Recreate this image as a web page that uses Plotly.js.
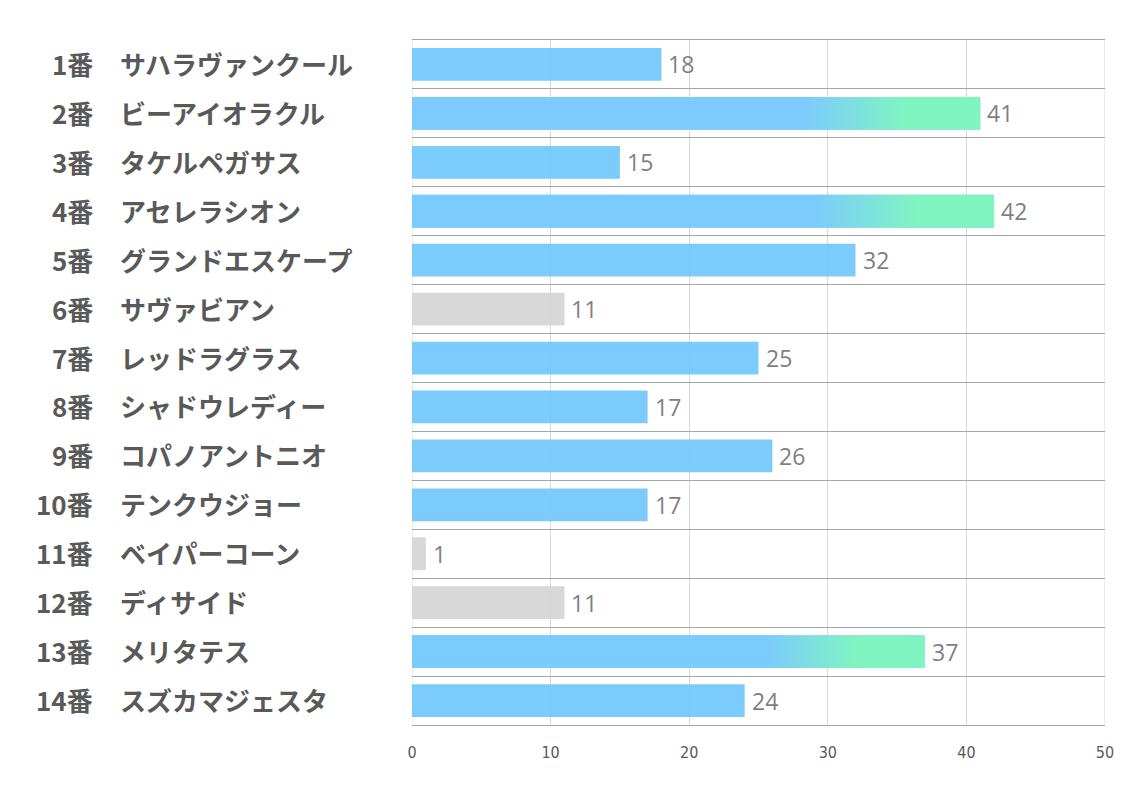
<!DOCTYPE html>
<html>
<head>
<meta charset="utf-8">
<script src="https://cdn.plot.ly/plotly-3.0.1.min.js"></script>
<style>html,body{margin:0;padding:0;background:#fff;}#chart{width:1134px;height:793px;}</style>
</head>
<body>
<div id="chart"></div>
<script>
const numbers = ['1番','2番','3番','4番','5番','6番','7番','8番','9番','10番','11番','12番','13番','14番'];
const names = ['サハラヴァンクール','ビーアイオラクル','タケルペガサス','アセレラシオン','グランドエスケープ','サヴァビアン','レッドラグラス','シャドウレディー','コパノアントニオ','テンクウジョー','ベイパーコーン','ディサイド','メリタテス','スズカマジェスタ'];
const values = [18, 41, 15, 42, 32, 11, 25, 17, 26, 17, 1, 11, 37, 24];
const groups = ['blue','grad','blue','grad','blue','gray','blue','blue','blue','blue','gray','gray','grad','blue'];
const xTicks = [0, 10, 20, 30, 40, 50];

const BLUE = 'rgba(109,197,253,0.9)';
const GRAY = 'rgba(212,212,212,0.9)';
const GREEN = '#80f8bc';
const BAR_H = 0.67;

const idx = values.map((v, i) => i);
const traces = [{
  type: 'bar',
  orientation: 'h',
  x: values,
  y: idx,
  width: BAR_H,
  marker: {color: groups.map(g => g === 'gray' ? GRAY : BLUE), line: {width: 0}},
  hoverinfo: 'x'
}];

idx.forEach(i => {
  if (groups[i] !== 'grad') return;
  const v = values[i];
  traces.push({
    type: 'scatter',
    mode: 'lines',
    x: [0, v, v, 0, 0],
    y: [i - BAR_H / 2, i - BAR_H / 2, i + BAR_H / 2, i + BAR_H / 2, i - BAR_H / 2],
    fill: 'toself',
    line: {width: 0, color: 'rgba(0,0,0,0)'},
    opacity: 0.93,
    fillgradient: {
      type: 'horizontal',
      start: 0,
      stop: v,
      colorscale: [[0, '#7ccbfd'], [0.69, '#7ccbfd'], [0.87, GREEN], [1, GREEN]]
    },
    hoverinfo: 'skip',
    showlegend: false
  });
});

const labelFont = {family: '"Noto Sans CJK JP", "Noto Sans", sans-serif', size: 26, color: '#595959'};
const annotations = [];
idx.forEach(i => {
  annotations.push({
    xref: 'paper', yref: 'y', x: -0.4575, y: i, xanchor: 'right', yanchor: 'middle', yshift: 1,
    text: '<b>' + numbers[i] + '</b>', showarrow: false, font: labelFont
  });
  annotations.push({
    xref: 'paper', yref: 'y', x: -0.4245, y: i, xanchor: 'left', yanchor: 'middle', yshift: 1,
    text: '<b>' + names[i] + '</b>', showarrow: false, font: labelFont
  });
  annotations.push({
    xref: 'x', yref: 'y', x: values[i], y: i, xanchor: 'left', yanchor: 'middle',
    xshift: 5, text: String(values[i]), showarrow: false,
    font: {family: '"Open Sans", "Noto Sans", sans-serif', size: 23, color: '#7f7f7f'}
  });
});

const layout = {
  width: 1134, height: 793,
  margin: {l: 412, r: 29, t: 40, b: 68},
  paper_bgcolor: '#ffffff', plot_bgcolor: '#ffffff',
  showlegend: false,
  xaxis: {
    range: [0, 50],
    tickmode: 'array', tickvals: xTicks, ticktext: xTicks.map(String),
    showgrid: true, gridcolor: '#d9d9d9', gridwidth: 1,
    zeroline: false,
    showline: true, linecolor: '#a6a6a6', linewidth: 1, mirror: true,
    ticks: '', ticklabelstandoff: 13,
    tickfont: {family: '"Liberation Sans Narrow", "DejaVu Sans Condensed", sans-serif', size: 16, color: '#595959'},
    fixedrange: true
  },
  yaxis: {
    range: [13.5, -0.5],
    tickmode: 'linear', tick0: 0.5, dtick: 1,
    showgrid: true, gridcolor: '#a6a6a6', gridwidth: 1,
    zeroline: false, showticklabels: false, ticks: '',
    showline: false,
    fixedrange: true
  },
  shapes: [
    {type: 'line', xref: 'x', yref: 'paper', x0: 0, x1: 0, y0: 0, y1: 1, line: {color: '#d9d9d9', width: 1}, layer: 'below'},
    {type: 'line', xref: 'x', yref: 'paper', x0: 50, x1: 50, y0: 0, y1: 1, line: {color: '#d9d9d9', width: 1}, layer: 'below'}
  ],
  annotations: annotations
};

Plotly.newPlot('chart', traces, layout, {displayModeBar: false, staticPlot: true});
</script>
</body>
</html>
